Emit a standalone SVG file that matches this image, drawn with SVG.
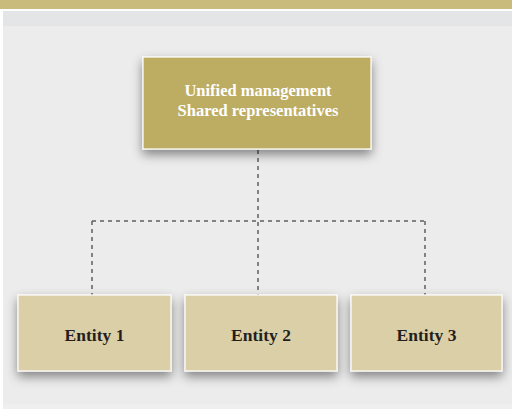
<svg xmlns="http://www.w3.org/2000/svg" width="512" height="409" viewBox="0 0 512 409">
<style>
.top{fill:#bdad62;stroke:#ffffff;stroke-width:1.2}
.ent{fill:#dbcfa7;stroke:#ffffff;stroke-width:1.2}
.tt{font-family:"Liberation Serif","Times New Roman",serif;font-weight:bold;font-size:16.5px;fill:#ffffff;text-anchor:middle}
.et{font-family:"Liberation Serif","Times New Roman",serif;font-weight:bold;font-size:17.5px;fill:#231f20;text-anchor:middle}
.dash{fill:none;stroke:#5f5f5f;stroke-width:1.5;stroke-dasharray:4 4}
</style>
<defs>
<filter id="sh" x="-25%" y="-40%" width="150%" height="190%">
<feDropShadow dx="0" dy="5" stdDeviation="5.5" flood-color="#000000" flood-opacity="0.45"/>
</filter>
</defs>
<rect x="0" y="0" width="512" height="409" fill="#ffffff"/>
<rect x="3" y="11" width="509" height="398" fill="#ececec"/>
<rect x="3" y="11" width="509" height="15" fill="#e4e5e7"/>
<rect x="3" y="404" width="509" height="5" fill="#efefef"/>
<rect x="0" y="0" width="512" height="9" fill="#c9bb7b"/>
<g id="connectors">
<path class="dash" d="M258 150 V295"/>
<path class="dash" d="M92 221 H425"/>
<path class="dash" d="M92 221 V295"/>
<path class="dash" d="M425 221 V295"/>
</g>
<g id="node-top">
<rect class="top" x="143" y="57" width="228" height="92" filter="url(#sh)"/>
<text class="tt" x="258" y="96">Unified management</text>
<text class="tt" x="258" y="115.5">Shared representatives</text>
</g>
<g id="node-entity1">
<rect class="ent" x="18" y="295" width="153" height="76" filter="url(#sh)"/>
<text class="et" x="94.5" y="341">Entity 1</text>
</g>
<g id="node-entity2">
<rect class="ent" x="185" y="295" width="152" height="76" filter="url(#sh)"/>
<text class="et" x="261" y="341">Entity 2</text>
</g>
<g id="node-entity3">
<rect class="ent" x="351" y="295" width="151" height="76" filter="url(#sh)"/>
<text class="et" x="426.5" y="341">Entity 3</text>
</g>
</svg>
